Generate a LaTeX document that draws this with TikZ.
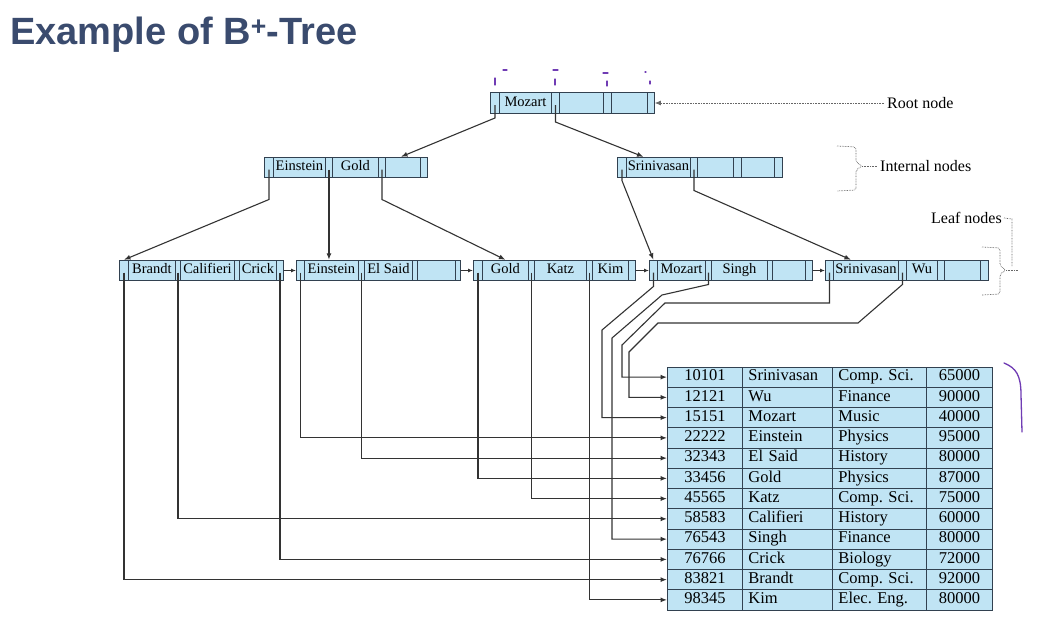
\documentclass[tikz,border=0pt]{standalone}
\usepackage{fontspec}
\setmainfont{Liberation Serif}
\newfontfamily\titlefont{Liberation Sans}
\usetikzlibrary{arrows.meta,calc}
\definecolor{nodefill}{RGB}{192,228,244}
\definecolor{edgec}{RGB}{50,65,80}
\definecolor{titlec}{RGB}{58,75,110}
\definecolor{penc}{RGB}{112,60,180}
\tikzset{
  cell/.style={draw=edgec, fill=nodefill, line width=0.9pt, inner sep=0pt, minimum height=20.5pt, anchor=west, text height=9.5pt, text depth=2.8pt, font=\fontsize{14.5}{15}\selectfont},
  tcell/.style={draw=edgec, fill=nodefill, line width=0.9pt, inner sep=0pt, minimum height=20.25pt, anchor=west, text height=11pt, text depth=3.5pt, font=\fontsize{16.5}{17}\selectfont\frenchspacing},
  conn/.style={draw=black!80, line width=1.1pt},
  arr/.style={conn, -{Latex[length=6.5pt,width=5pt]}},
  sarr/.style={conn, -{Latex[length=5pt,width=4pt]}},
  dots/.style={draw=black!60, line width=0.7pt, dash pattern=on 0.7pt off 0.9pt},
  pen/.style={draw=penc, line width=1.3pt, line cap=round},
  annot/.style={font=\fontsize{16}{18}\selectfont, inner sep=0pt},
}
\newcommand{\bcell}[5]{\node[cell, minimum width=#3pt] (#1) at (#2,#4) {#5};}
\frenchspacing
\begin{document}
\begin{tikzpicture}[x=1pt,y=-1pt]
\fill[white] (0,0) rectangle (1041,618);
\useasboundingbox (0,0) rectangle (1041,618);

% title
\node[anchor=base west, inner sep=0pt, text=titlec, font=\titlefont\bfseries\fontsize{38}{40}\selectfont] (title) at (10,45) {Example of B\textsuperscript{+}-Tree};

% root
\bcell{r0}{490}{9}{103}{}
\bcell{r1}{499}{52}{103}{Mozart}
\bcell{r2}{551}{8}{103}{}
\bcell{r3}{559}{44}{103}{}
\bcell{r4}{603}{8}{103}{}
\bcell{r5}{611}{36}{103}{}
\bcell{r6}{647}{7}{103}{}

% internal left
\bcell{a0}{264}{9}{167.5}{}
\bcell{a1}{273}{52}{167.5}{Einstein}
\bcell{a2}{325}{7}{167.5}{}
\bcell{a3}{332}{46}{167.5}{Gold}
\bcell{a4}{378}{7}{167.5}{}
\bcell{a5}{385}{35}{167.5}{}
\bcell{a6}{420}{7}{167.5}{}

% internal right
\bcell{b0}{617}{9}{167.5}{}
\bcell{b1}{626}{64}{167.5}{Srinivasan}
\bcell{b2}{690}{7}{167.5}{}
\bcell{b3}{697}{36}{167.5}{}
\bcell{b4}{733}{8}{167.5}{}
\bcell{b5}{741}{33}{167.5}{}
\bcell{b6}{774}{8}{167.5}{}

% leaves
\bcell{c0}{119}{9}{270.5}{}
\bcell{c1}{128}{47}{270.5}{Brandt}
\bcell{c2}{175}{5}{270.5}{}
\bcell{c3}{180}{54}{270.5}{Califieri}
\bcell{c4}{234}{5}{270.5}{}
\bcell{c5}{239}{37}{270.5}{Crick}
\bcell{c6}{276}{7}{270.5}{}

\bcell{d0}{296}{8}{270.5}{}
\bcell{d1}{304}{54}{270.5}{Einstein}
\bcell{d2}{358}{6}{270.5}{}
\bcell{d3}{364}{48}{270.5}{El Said}
\bcell{d4}{412}{5}{270.5}{}
\bcell{d5}{417}{38}{270.5}{}
\bcell{d6}{455}{5}{270.5}{}

\bcell{e0}{473}{9}{270.5}{}
\bcell{e1}{482}{46}{270.5}{Gold}
\bcell{e2}{528}{6}{270.5}{}
\bcell{e3}{534}{52}{270.5}{Katz}
\bcell{e4}{586}{6}{270.5}{}
\bcell{e5}{592}{36}{270.5}{Kim}
\bcell{e6}{628}{7}{270.5}{}

\bcell{f0}{649}{8}{270.5}{}
\bcell{f1}{657}{48}{270.5}{Mozart}
\bcell{f2}{705}{6}{270.5}{}
\bcell{f3}{711}{56}{270.5}{Singh}
\bcell{f4}{767}{5}{270.5}{}
\bcell{f5}{772}{33}{270.5}{}
\bcell{f6}{805}{7}{270.5}{}

\bcell{g0}{825}{8}{270.5}{}
\bcell{g1}{833}{65}{270.5}{Srinivasan}
\bcell{g2}{898}{8}{270.5}{}
\bcell{g3}{906}{31}{270.5}{Wu}
\bcell{g4}{937}{7}{270.5}{}
\bcell{g5}{944}{36}{270.5}{}
\bcell{g6}{980}{8}{270.5}{}

% table
\foreach \i/\a/\b/\c/\d in {1/10101/Srinivasan/Comp. Sci./65000, 2/12121/Wu/Finance/90000, 3/15151/Mozart/Music/40000, 4/22222/Einstein/Physics/95000, 5/32343/El Said/History/80000, 6/33456/Gold/Physics/87000, 7/45565/Katz/Comp. Sci./75000, 8/58583/Califieri/History/60000, 9/76543/Singh/Finance/80000, 10/76766/Crick/Biology/72000, 11/83821/Brandt/Comp. Sci./92000, 12/98345/Kim/Elec. Eng./80000}{
  \pgfmathsetmacro\yy{367+20.25*(\i-0.5)}
  \node[tcell, minimum width=75pt] (ta\i) at (667,\yy) {\a};
  \node[tcell, text width=78pt, align=left, inner xsep=6pt] (tb\i) at (742,\yy) {\b};
  \node[tcell, text width=82pt, align=left, inner xsep=6pt] (tc\i) at (832,\yy) {\c};
  \node[tcell, minimum width=66pt] (td\i) at (926,\yy) {\d};
}

% root pointers
\draw[arr] ($(r0.center)+(0,2)$) -- ++(0,13) -- ($(a5.north)+(-2,0)$);
\draw[arr] ($(r2.center)+(0,2)$) -- ++(0,17) -- ($(b1.north)+(-15,0)$);

% internal pointers
\draw[arr] ($(a0.center)+(0,2)$) -- ++(0,30) -- (c0.north);
\draw[arr] ($(a2.center)+(0,2)$) -- (a2.center |- d1.north);
\draw[arr] ($(a4.center)+(0,2)$) -- ++(0,30) -- (e1.north);
\draw[arr] ($(b0.center)+(0,2)$) -- ++(0,11) -- (f0.north);
\draw[arr] ($(b2.center)+(0,2)$) -- ++(0,21) -- ($(g1.north)+(-15,0)$);

% leaf chain
\draw[sarr] (c6.east) -- (d0.west);
\draw[sarr] (d6.east) -- (e0.west);
\draw[sarr] (e6.east) -- (f0.west);
\draw[sarr] (f6.east) -- (g0.west);

% leaf to records
\draw[arr] ($(c0.center)+(0,2)$) |- (ta11.west);
\draw[arr] ($(c2.center)+(0,2)$) |- (ta8.west);
\draw[arr] ($(c6.center)+(0,2)$) |- (ta10.west);
\draw[arr] ($(d0.center)+(0,2)$) |- (ta4.west);
\draw[arr] ($(d2.center)+(0,2)$) |- (ta5.west);
\draw[arr] ($(e0.center)+(0,2)$) |- (ta6.west);
\draw[arr] ($(e2.center)+(0,2)$) |- (ta7.west);
\draw[arr] ($(e4.center)+(0,2)$) |- (ta12.west);
\draw[arr] ($(f0.center)+(0,2)$) -- ++(0,14) -- (602,330) |- (ta3.west);
\draw[arr] ($(f2.center)+(0,2)$) -- ++(0,12) -- (662,295) -- (612,338) |- (ta9.west);
\draw[arr] ($(g0.center)+(0,2)$) |- (665,303) -- (622,345) |- (ta1.west);
\draw[arr] ($(g2.center)+(0,2)$) -- ++(0,12) -- (858,323) -- (658,323) -- (629,352) |- (ta2.west);

% annotations
\node[annot, anchor=west] (rootlbl) at (887,103) {Root node};
\draw[dots, -{Latex[length=6pt,width=5pt]}] ($(rootlbl.west)+(-3,0)$) -- (r6.east);

\node[annot, anchor=west] (intlbl) at (880,166) {Internal nodes};
\draw[dots, rounded corners=2pt] (837,146) -- (856,147) -- (856,162) -- (862,166) -- (856,170) -- (856,190) -- (837,191);
\draw[dots] (862,166) -- ($(intlbl.west)+(-3,0)$);

\node[annot, anchor=east] (leaflbl) at (1002,218) {Leaf nodes};
\draw[dots, rounded corners=2pt] (982,247) -- (1000,248) -- (1000,266) -- (1006,270) -- (1000,274) -- (1000,294) -- (982,295);
\draw[dots] (1006,270) -- (1018,270);
\draw[dots] ($(leaflbl.east)+(2,0)$) -- (1012,219) -- (1012,266);

% hand-drawn pen marks
\draw[pen] (495,78) -- (495,85);
\draw[pen] (503,70) -- (507,70);
\draw[pen] (553,70) -- (558,70);
\draw[pen] (555,79) -- (555,85);
\draw[pen] (603,73) -- (608,73);
\draw[pen] (607,81) -- (607,86);
\draw[pen] (645,72) -- (646,72);
\draw[pen] (650,81) -- (650,84);
\draw[pen] (1004,363) .. controls (1016,368) and (1021,375) .. (1021,395) -- (1022,432);
\end{tikzpicture}
\end{document}
